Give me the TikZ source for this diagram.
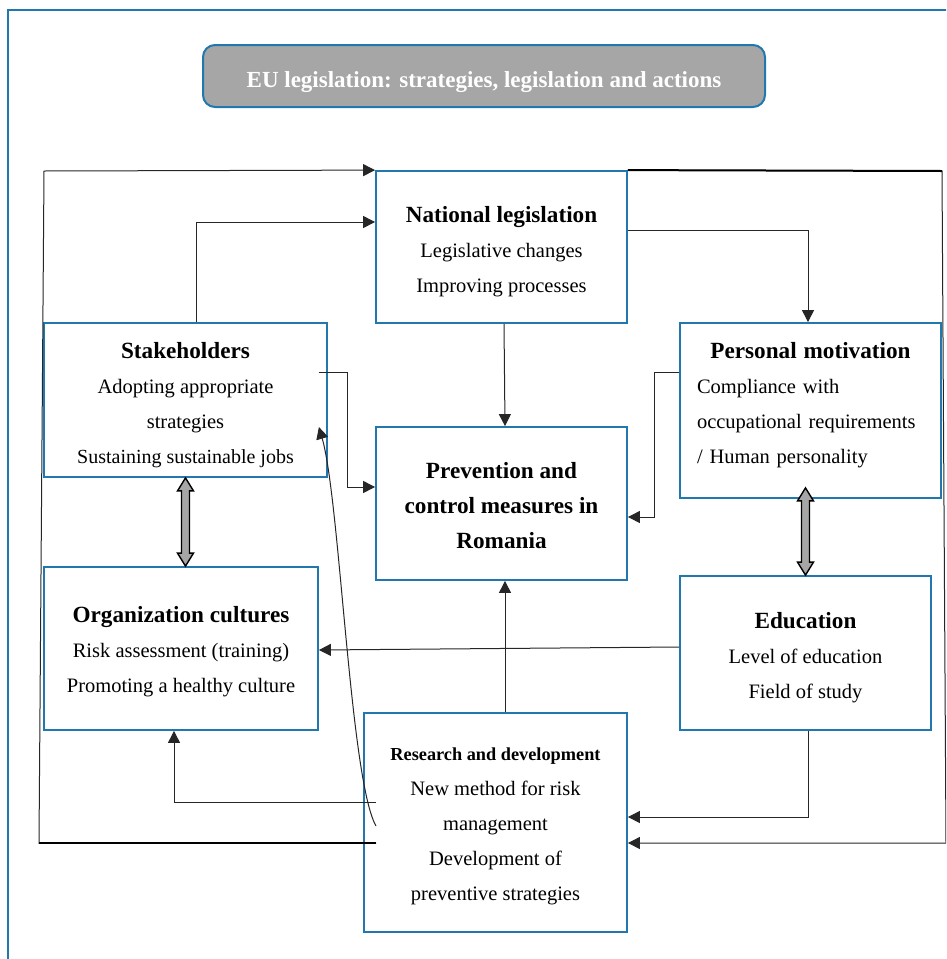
\documentclass[tikz,border=0pt]{standalone}
\usepackage{fontspec}
\setmainfont{Liberation Serif}
\usetikzlibrary{arrows.meta,calc}
\definecolor{bblue}{HTML}{2178AE}
\definecolor{hgray}{HTML}{A6A6A6}
\newcommand\boxtitle[1]{{\fontsize{23.2}{35}\selectfont\bfseries #1}}
\begin{document}
\begin{tikzpicture}[x=1pt,y=-1pt,
  box/.style={draw=bblue, line width=1.8pt, fill=white, inner sep=0pt},
  txt/.style={inner sep=0pt, align=center, font=\fontsize{20.5}{35}\selectfont},
  conn/.style={line width=1pt, draw=black!85},
  heavy/.style={line width=2pt, draw=black},
  tip/.style={-{Triangle[length=12pt,width=12pt]}},
  dbl/.style={draw=black, line width=1.4pt, fill=hgray, line join=miter}]
\useasboundingbox (0,0) rectangle (946,959);
\clip (0,0) rectangle (946,959);
% outer frame (open at right and bottom)
\draw[bblue, line width=1.5pt] (8,10) rectangle (990,1000);
% header
\node[draw=bblue, line width=2pt, fill=hgray, rounded corners=12pt, minimum width=562pt,
  minimum height=62pt] (hdr) at (484,76) {};
\node[inner sep=0pt, text=white, font=\fontsize{23}{27}\selectfont\bfseries] (hdrT)
  at ([yshift=-6pt]hdr.center) {EU legislation: strategies, legislation and actions};
% boxes
\node[box, minimum width=251pt, minimum height=152pt] (natl) at (501.5,247) {};
\node[txt] (natlT) at ([yshift=-5pt]natl.center)
  {\boxtitle{National legislation}\\Legislative changes\\Improving processes};
\node[box, minimum width=283pt, minimum height=154pt] (stake) at (185.5,400) {};
\node[txt] (stakeT) at ([yshift=-5pt]stake.center)
  {\boxtitle{Stakeholders}\\Adopting appropriate\\strategies\\{\fontsize{20}{35}\selectfont Sustaining sustainable jobs}};
\node[box, minimum width=261pt, minimum height=175pt] (pers) at (810.5,410.5) {};
\node[txt, text width=227pt, align=left] (persT) at ([yshift=5pt]pers.center)
  {\makebox[227pt]{\boxtitle{Personal motivation}}\\Compliance with\\occupational requirements\\/ Human personality};
\node[box, minimum width=251pt, minimum height=153pt] (prev) at (501.5,503.5) {};
\node[txt] (prevT) at ([yshift=-2pt]prev.center)
  {\boxtitle{Prevention and}\\\boxtitle{control measures in}\\\boxtitle{Romania}};
\node[box, minimum width=274pt, minimum height=163pt] (org) at (181,648.5) {};
\node[txt] (orgT) at ([yshift=-3pt]org.center)
  {\boxtitle{Organization cultures}\\Risk assessment (training)\\Promoting a healthy culture};
\node[box, minimum width=251pt, minimum height=154pt] (edu) at (805.5,653) {};
\node[txt] (eduT) at ([yshift=-5pt]edu.center)
  {\boxtitle{Education}\\Level of education\\Field of study};
\node[box, minimum width=263pt, minimum height=219pt] (res) at (495.5,822.5) {};
\node[txt] (resT) at ([yshift=-4pt]res.center)
  {{\fontsize{18.3}{35}\selectfont\bfseries Research and development}\\New method for risk\\management\\Development of\\preventive strategies};
% free ends inside the research box
\coordinate (rA) at (376,843);
\coordinate (rB) at (376,802);
\coordinate (rC) at (376,826);
% outer left loop
\draw[conn, tip] (rA) -- (39,843) -- (44,171) -- (natl.north west);
\draw[heavy] (rA) -- (39,843);
% outer right loop
\draw[conn, tip] (natl.north east) -- (942,171) -- (946,843) -- (res.east |- rA);
\draw[heavy] (natl.north east) -- (942,171);
% stakeholders -> national legislation
\draw[conn, tip] (stake.north -| 196,0) |- (natl.west |- 0,222);
% national legislation -> personal motivation
\draw[conn, tip] (natl.east |- 0,230) -| (pers.north -| 808,0);
% national legislation -> prevention
\draw[conn, tip] (natl.south -| 504,0) -- (prev.north -| 505,0);
% stakeholders -> prevention
\draw[conn, tip] ([xshift=-9pt]stake.east |- 0,372) -- (347,372) |- (prev.west |- 0,487);
% personal motivation -> prevention
\draw[conn, tip] (pers.west |- 0,372) -- (654,372) |- (prev.east |- 0,517);
% research -> prevention
\draw[conn, tip] (res.north -| 505,0) -- (prev.south -| 505,0);
% education -> organization cultures
\draw[conn, tip] (edu.west |- 0,647) -- (org.east |- 0,650);
% research -> organization cultures
\draw[conn, tip] (rB) -| (org.south -| 174,0);
% education -> research
\draw[conn, tip] (edu.south -| 808,0) |- (res.east |- 0,817);
% research -> stakeholders (curve)
\draw[conn, tip] (rC) .. controls (350,780) and (340,500) .. ([xshift=-9pt]stake.east |- 0,427);
% double arrows
\draw[dbl] let \p1=(stake.south), \p2=(org.north) in
  (\x1,\y1) -- ++(8pt,-13pt) -- ++(-4pt,0pt) -- ({\x1+4pt},{\y2+13pt}) -- ++(4pt,0pt)
  -- (\x1,\y2) -- ++(-8pt,13pt) -- ++(4pt,0pt) -- ({\x1-4pt},{\y1-13pt}) -- ++(-4pt,0pt) -- cycle;
\draw[dbl] let \p1=([yshift=11pt]pers.south -| edu.north), \p2=(edu.north) in
  (\x1,\y1) -- ++(8pt,-13pt) -- ++(-4pt,0pt) -- ({\x1+4pt},{\y2+13pt}) -- ++(4pt,0pt)
  -- (\x1,\y2) -- ++(-8pt,13pt) -- ++(4pt,0pt) -- ({\x1-4pt},{\y1-13pt}) -- ++(-4pt,0pt) -- cycle;
\end{tikzpicture}
\end{document}
